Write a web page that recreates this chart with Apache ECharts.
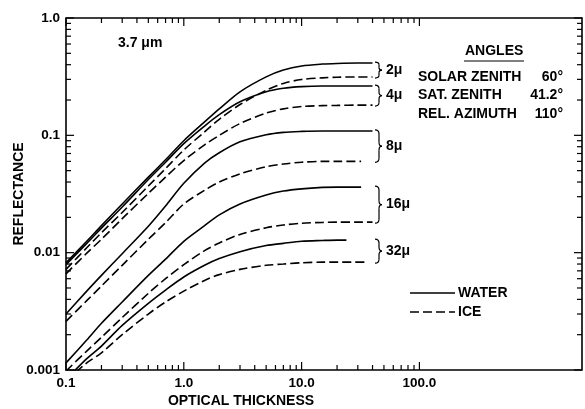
<!DOCTYPE html>
<html><head><meta charset="utf-8">
<script src="https://cdn.jsdelivr.net/npm/echarts@6/dist/echarts.min.js"></script>
<style>html,body{margin:0;padding:0;background:#fff}#c{width:585px;height:409px}</style>
</head><body><div id="c"></div>
<script>
// ---- data ----
const tauFull  = [0.1,0.15,0.2,0.3,0.5,0.7,1,1.5,2,3,5,7,10,15,20,30,40];
const tauMid   = [0.1,0.15,0.2,0.3,0.5,0.7,1,1.5,2,3,5,7,10,15,20,32];
const tauShort = [0.1,0.15,0.2,0.3,0.5,0.7,1,1.5,2,3,5,7,10,15,20,24];
const tauIce32 = [0.1,0.15,0.2,0.3,0.5,0.7,1,1.5,2,3,5,7,10,15,20,36];

const water2  = [0.0082,0.0125,0.017,0.026,0.044,0.062,0.09,0.13,0.168,0.235,0.315,0.36,0.39,0.405,0.41,0.413,0.413];
const water4  = [0.0079,0.012,0.0162,0.0245,0.042,0.059,0.085,0.12,0.15,0.193,0.235,0.252,0.26,0.263,0.263,0.263,0.263];
const water8  = [0.003,0.0047,0.0064,0.0098,0.0168,0.025,0.039,0.058,0.071,0.088,0.101,0.106,0.108,0.109,0.109,0.109,0.109];
const water16 = [0.00115,0.0018,0.0025,0.0038,0.0064,0.0088,0.0125,0.017,0.021,0.026,0.031,0.0335,0.035,0.036,0.0362,0.0362];
const water32 = [0.00083,0.00125,0.0016,0.0024,0.0037,0.0048,0.0062,0.0078,0.0089,0.0102,0.0115,0.012,0.0125,0.0127,0.0128,0.0128];

const ice2  = [0.0072,0.011,0.0148,0.022,0.037,0.052,0.075,0.107,0.137,0.183,0.242,0.277,0.299,0.309,0.313,0.314,0.314];
const ice4  = [0.0066,0.0099,0.013,0.0195,0.032,0.044,0.061,0.083,0.1,0.126,0.155,0.168,0.176,0.179,0.18,0.181,0.181];
const ice8  = [0.0026,0.0039,0.0052,0.0078,0.013,0.018,0.026,0.034,0.04,0.047,0.054,0.057,0.059,0.06,0.06,0.06];
const ice16 = [0.00098,0.00145,0.0019,0.0028,0.0045,0.006,0.0079,0.0104,0.0121,0.0143,0.0163,0.0172,0.0178,0.0181,0.0182,0.0182,0.0182];
const ice32 = [0.0008,0.00115,0.0014,0.002,0.003,0.0038,0.0047,0.0058,0.0065,0.0072,0.0078,0.008,0.0082,0.0083,0.0083,0.0083];

const sizeLabels = ['2μ','4μ','8μ','16μ','32μ'];
const xMajor = [0.1,1,10,100];
const xTickLabels = ['0.1','1.0','10.0','100.0'];
const xMinor = [0.2,0.3,0.4,0.5,0.6,0.7,0.8,0.9,2,3,4,5,6,7,8,9,20,30,40,50,60,70,80,90];
const yMajor = [0.001,0.01,0.1,1];
const yTickLabels = ['0.001','0.01','0.1','1.0'];
const yMinor = [0.002,0.003,0.004,0.005,0.006,0.007,0.008,0.009,0.02,0.03,0.04,0.05,0.06,0.07,0.08,0.09,0.2,0.3,0.4,0.5,0.6,0.7,0.8,0.9];
const angleNames = ['SOLAR ZENITH','SAT. ZENITH','REL. AZIMUTH'];
const angleValues = ['60°','41.2°','110°'];
const legendNames = ['WATER','ICE'];

// ---- chart ----
const FONT = '"Liberation Sans", Arial, sans-serif';
const FW = 'bold';
const DASH = [9,4];
const zip = (xs, ys) => ys.map((y, i) => [xs[i], y]);
const labelFor = (majors, labels) => v => {
  const i = majors.findIndex(m => Math.abs(Math.log10(m) - Math.log10(v)) < 1e-6);
  return i >= 0 ? labels[i] : '';
};

const pairs = [
  {w: zip(tauFull, water2),  i: zip(tauFull, ice2)},
  {w: zip(tauFull, water4),  i: zip(tauFull, ice4)},
  {w: zip(tauFull, water8),  i: zip(tauMid, ice8)},
  {w: zip(tauMid, water16),  i: zip(tauFull, ice16)},
  {w: zip(tauShort, water32), i: zip(tauIce32, ice32)}
];

const series = [];
pairs.forEach(p => {
  series.push({name:'WATER', type:'line', data:p.w, showSymbol:false, symbol:'none', smooth:0.3, clip:true,
    lineStyle:{color:'#000', width:1.6, type:'solid'}, silent:true});
  series.push({name:'ICE', type:'line', data:p.i, showSymbol:false, symbol:'none', smooth:0.3, clip:true,
    lineStyle:{color:'#000', width:1.6, type:DASH}, silent:true});
});

const axisLabelStyle = {margin:6, fontSize:13.5, fontWeight:FW, color:'#000', fontFamily:FONT};
const chart = echarts.init(document.getElementById('c'), null, {renderer:'canvas'});
chart.setOption({
  animation:false,
  backgroundColor:'#fff',
  textStyle:{fontFamily:FONT, color:'#000'},
  grid:{left:66, right:2, top:18, bottom:39, show:true, borderColor:'#000', borderWidth:1.6, backgroundColor:'transparent'},
  xAxis:{type:'log', logBase:10, min:0.1, max:2400,
    axisLine:{show:false}, axisTick:{show:false}, splitLine:{show:false},
    axisLabel:Object.assign({formatter:labelFor(xMajor, xTickLabels)}, axisLabelStyle)
  },
  yAxis:{type:'log', logBase:10, min:0.001, max:1,
    axisLine:{show:false}, axisTick:{show:false}, splitLine:{show:false},
    axisLabel:Object.assign({formatter:labelFor(yMajor, yTickLabels)}, axisLabelStyle)
  },
  series:series
});

// ---- overlays positioned through the axis scales ----
const px = (x, y) => chart.convertToPixel({gridIndex:0}, [x, y]);
const gLeft = px(0.1, 1)[0], gTop = px(0.1, 1)[1];
const gBottom = px(0.1, 0.001)[1];
const gRight = px(2400, 1)[0];
const graphics = [];
const line = (x1, y1, x2, y2, extra) => graphics.push({type:'line', silent:true,
  shape:{x1, y1, x2, y2}, style:Object.assign({stroke:'#000', lineWidth:1.2}, extra || {})});
const tx = (text, x, y, opts) => graphics.push({type:'text', x, y, silent:true,
  style:Object.assign({text, fontFamily:FONT, fontSize:14, fontWeight:FW, fill:'#000', verticalAlign:'middle', align:'left'}, opts || {})});

// ticks (inward, on all four sides)
xMajor.map(v => [v, 8]).concat(xMinor.map(v => [v, 5])).forEach(([v, len]) => {
  const x = px(v, 0.01)[0];
  line(x, gBottom, x, gBottom - len);
  line(x, gTop, x, gTop + len);
});
yMajor.map(v => [v, 8]).concat(yMinor.map(v => [v, 5])).forEach(([v, len]) => {
  const y = px(1, v)[1];
  line(gLeft, y, gLeft + len, y);
  line(gRight, y, gRight - len, y);
});

tx('3.7 μm', 118, 43);
tx('ANGLES', 465, 51);
line(464, 61, 524, 61);
angleNames.forEach((n, k) => {
  const y = 77 + k * 18.5;
  tx(n, 418, y);
  tx(angleValues[k], 563, y, {align:'right'});
});
graphics.push({type:'text', x:19, y:194, rotation:Math.PI/2, silent:true,
  style:{text:'REFLECTANCE', fontFamily:FONT, fontSize:14, fontWeight:FW, fill:'#000', align:'center', verticalAlign:'middle'}});
graphics.push({type:'text', x:241, y:401, silent:true,
  style:{text:'OPTICAL THICKNESS', fontFamily:FONT, fontSize:14, fontWeight:FW, fill:'#000', align:'center', verticalAlign:'middle'}});

// braces + size labels
pairs.forEach((p, k) => {
  const wEnd = p.w[p.w.length - 1], iEnd = p.i[p.i.length - 1];
  const y0 = px(1, wEnd[1])[1] - 1;
  const y1 = px(1, iEnd[1])[1] + 1;
  const m = (y0 + y1) / 2;
  const xa = 375, xb = 379, xc = 382, r = Math.min(4, (y1 - y0) / 6);
  const st = {stroke:'#000', lineWidth:1.2, fill:null};
  graphics.push({type:'bezierCurve', silent:true, shape:{x1:xa, y1:y0, cpx1:xb, cpy1:y0, x2:xb, y2:y0 + r}, style:st});
  line(xb, y0 + r, xb, m - r);
  graphics.push({type:'bezierCurve', silent:true, shape:{x1:xb, y1:m - r, cpx1:xb, cpy1:m, x2:xc, y2:m}, style:st});
  graphics.push({type:'bezierCurve', silent:true, shape:{x1:xc, y1:m, cpx1:xb, cpy1:m, x2:xb, y2:m + r}, style:st});
  line(xb, m + r, xb, y1 - r);
  graphics.push({type:'bezierCurve', silent:true, shape:{x1:xb, y1:y1 - r, cpx1:xb, cpy1:y1, x2:xa, y2:y1}, style:st});
  tx(sizeLabels[k], 386, m);
});

// legend
legendNames.forEach((n, k) => {
  const y = 293 + k * 19;
  line(410, y, 455, y, k ? {lineWidth:1.6, lineDash:DASH} : {lineWidth:1.6});
  tx(n, 458, y);
});

chart.setOption({graphic:{elements:graphics}});
</script></body></html>
